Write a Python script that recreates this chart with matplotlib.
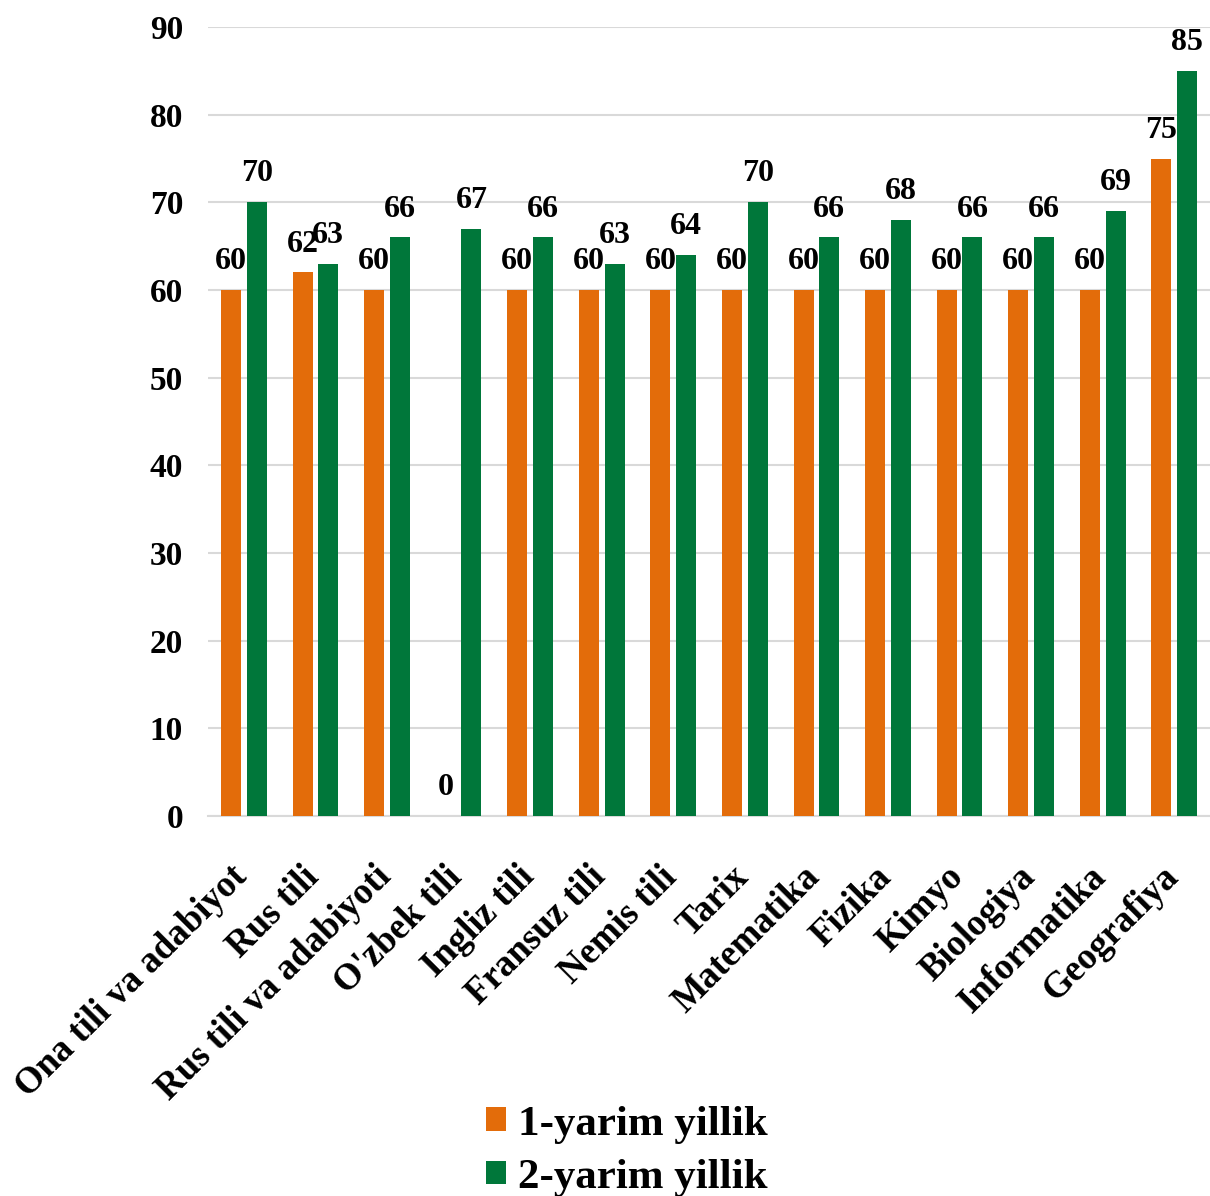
import matplotlib
matplotlib.use("Agg")
import matplotlib.pyplot as plt
import matplotlib.transforms as mtrans
import numpy as np

categories = ["Ona tili va adabiyot", "Rus tili", "Rus tili va adabiyoti", "O'zbek tili",
              "Ingliz tili", "Fransuz tili", "Nemis tili", "Tarix", "Matematika", "Fizika",
              "Kimyo", "Biologiya", "Informatika", "Geografiya"]
sem1 = [60, 62, 60, 0, 60, 60, 60, 60, 60, 60, 60, 60, 60, 75]
sem2 = [70, 63, 66, 67, 66, 63, 64, 70, 66, 68, 66, 66, 69, 85]
series_names = ["1-yarim yillik", "2-yarim yillik"]
yticks = list(range(0, 91, 10))

c1 = "#E36C0A"
c2 = "#00773A"

plt.rcParams['font.family'] = ['Liberation Serif', 'DejaVu Serif']
plt.rcParams['font.weight'] = 'bold'

fig = plt.figure(figsize=(12.10, 11.96), dpi=100)
ax = fig.add_axes([0.172, 0.3177, 0.828, 0.6597])

x = np.arange(len(categories))
w = 0.28
off = 0.18
b1 = ax.bar(x - off, sem1, w, color=c1, label=series_names[0], zorder=3)
b2 = ax.bar(x + off, sem2, w, color=c2, label=series_names[1], zorder=3)

for xi, v in zip(x, sem1):
    ax.annotate(str(v), (xi - off, v), xytext=(0, 10), textcoords='offset points',
                ha='center', va='bottom', fontsize=23, fontweight='bold', zorder=4)
for xi, v in zip(x, sem2):
    ax.annotate(str(v), (xi + off, v), xytext=(0, 10), textcoords='offset points',
                ha='center', va='bottom', fontsize=23, fontweight='bold', zorder=4)

ax.set_xlim(-0.5, len(categories) - 0.5)
ax.set_ylim(0, 90)
ax.set_yticks(yticks)
ax.set_yticklabels([str(t) for t in yticks], fontsize=24, fontweight='bold')
ax.yaxis.grid(True, color='#D9D9D9', linewidth=1.5, zorder=0)
ax.set_axisbelow(True)
for s in ['top', 'right', 'left']:
    ax.spines[s].set_visible(False)
ax.spines['bottom'].set_color('#D9D9D9')
ax.spines['bottom'].set_linewidth(1.5)
ax.tick_params(axis='both', length=0)
ax.tick_params(axis='y', pad=18)
ax.set_xticks(x)
ax.set_xticklabels(categories, rotation=45, ha='right', rotation_mode='anchor',
                   fontsize=26.5, fontweight='bold')
ax.tick_params(axis='x', pad=24)
shift = mtrans.ScaledTranslation(-0.14, -0.10, fig.dpi_scale_trans)
for lbl in ax.get_xticklabels():
    lbl.set_transform(lbl.get_transform() + shift)

fig.legend(handles=[b1, b2], loc='lower center', bbox_to_anchor=(0.518, -0.033), ncol=1,
           frameon=False, prop={'family': 'Liberation Serif', 'weight': 'bold', 'size': 31},
           handlelength=0.47, handleheight=0.47, handletextpad=0.28, labelspacing=0.35)

fig.savefig("out.png", dpi=100)
